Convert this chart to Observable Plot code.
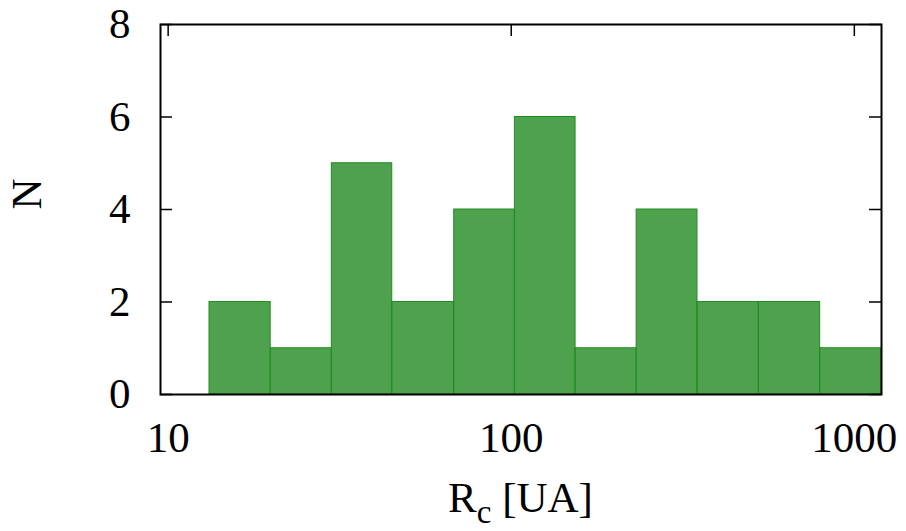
<!DOCTYPE html>
<html>
<head>
<meta charset="utf-8">
<script src="https://cdn.jsdelivr.net/npm/d3@7"></script>
<script src="https://cdn.jsdelivr.net/npm/@observablehq/plot@0.6"></script>
<style>
  html, body { margin: 0; padding: 0; background: white; }
  #chart { width: 906px; height: 531px; }
</style>
</head>
<body>
<div id="chart"></div>
<script>
// Bin edges (R_c in UA, log-spaced) and counts
const binEdges = [13.2, 19.9, 30.0, 45.0, 68.2, 102.5, 154, 232, 349, 527, 795, 1200];
const binCounts = [2, 1, 5, 2, 4, 6, 1, 4, 2, 2, 1];
const xTicks = [10, 100, 1000];
const yTicks = [0, 2, 4, 6, 8];
const xLabelMain = "R";
const xLabelSub = "c";
const xLabelRest = " [UA]";
const yLabel = "N";

const bins = binCounts.map((n, i) => ({x1: binEdges[i], x2: binEdges[i + 1], n}));

const font = '"Liberation Serif", "Times New Roman", serif';
const W = 906, H = 531, mL = 160, mR = 25, mT = 24, mB = 137;
const innerW = W - mL - mR, innerH = H - mT - mB;
const tickLen = 12;

const chart = Plot.plot({
  width: W,
  height: H,
  marginLeft: mL,
  marginRight: mR,
  marginTop: mT,
  marginBottom: mB,
  style: {fontFamily: font, fontSize: "43px", color: "black", background: "white"},
  x: {type: "log", domain: [9.5, 1200]},
  y: {domain: [0, 8]},
  marks: [
    Plot.rectY(bins, {x1: "x1", x2: "x2", y1: 0, y2: "n", fill: "#228b22", fillOpacity: 0.8, stroke: "#228b22", strokeWidth: 1, clip: true}),
    // inward ticks: top (x), left and right (y)
    Plot.tickX(xTicks, {x: d => d, insetBottom: innerH - tickLen, stroke: "black", strokeWidth: 1.5}),
    Plot.tickY(yTicks, {y: d => d, insetRight: innerW - tickLen, stroke: "black", strokeWidth: 1.5}),
    Plot.tickY(yTicks, {y: d => d, insetLeft: innerW - tickLen, stroke: "black", strokeWidth: 1.5}),
    Plot.frame({stroke: "black", strokeWidth: 2}),
    Plot.axisX({ticks: xTicks, tickSize: 0, tickPadding: 27, tickFormat: d => String(d), label: null, fontSize: 43}),
    Plot.axisY({ticks: yTicks, tickSize: 0, tickPadding: 30, tickFormat: d => String(d), label: null, fontSize: 43}),
    Plot.text([yLabel], {text: d => d, frameAnchor: "left", dx: -133, rotate: -90, fontSize: 43})
  ]
});

document.getElementById("chart").appendChild(chart);

// x-axis label with a real subscript
const svg = d3.select(chart);
const lbl = svg.append("text")
  .attr("x", mL + innerW / 2)
  .attr("y", 512)
  .attr("text-anchor", "middle")
  .attr("font-family", font)
  .attr("font-size", 43)
  .attr("fill", "black");
lbl.append("tspan").text(xLabelMain);
lbl.append("tspan").attr("font-size", 33).attr("dy", 11).text(xLabelSub);
lbl.append("tspan").attr("dy", -11).text(xLabelRest);
</script>
</body>
</html>
